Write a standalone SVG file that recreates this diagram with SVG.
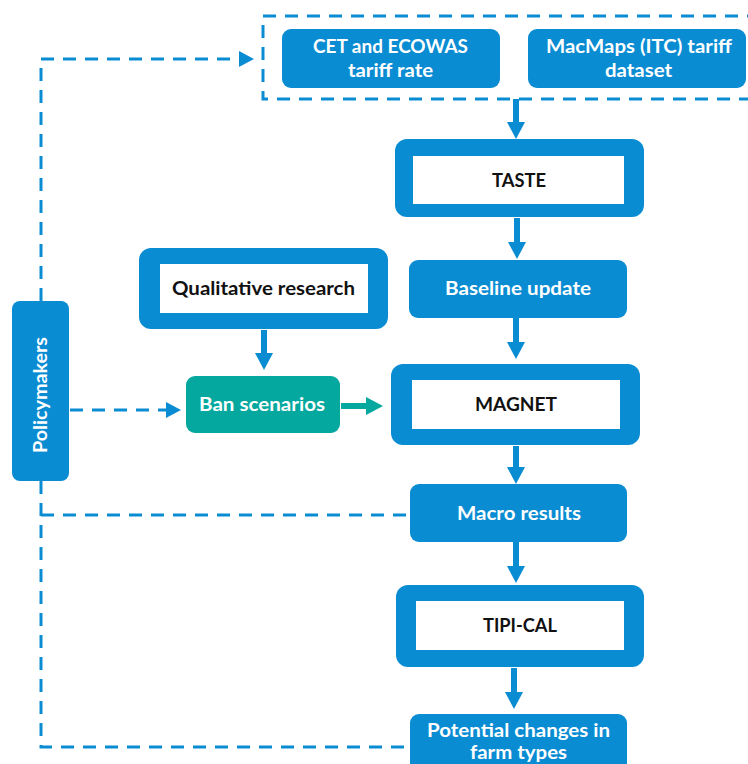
<svg xmlns="http://www.w3.org/2000/svg" width="748" height="764" viewBox="0 0 748 764">
<defs>
<style>
.blue{fill:#0A8CD3}
.teal{fill:#05A89E}
.inner{fill:#ffffff}
.wt{font-family:Lato,"Open Sans",sans-serif;font-weight:bold;font-size:19.5px;fill:#ffffff;text-anchor:middle}
.bt{font-family:Lato,"Open Sans",sans-serif;font-weight:bold;font-size:19.5px;fill:#111111;text-anchor:middle}
.solid{stroke:#0A8CD3;stroke-width:6;fill:none}
.dash{stroke:#0A8CD3;stroke-width:3;fill:none;stroke-dasharray:13 9}
</style>
<marker id="ah" markerUnits="userSpaceOnUse" markerWidth="18" markerHeight="18" refX="0" refY="9" orient="auto" overflow="visible">
<path d="M0,0 L17,9 L0,18 Z" fill="#0A8CD3"/>
</marker>
<marker id="aht" markerUnits="userSpaceOnUse" markerWidth="18" markerHeight="18" refX="0" refY="9" orient="auto" overflow="visible">
<path d="M0,0 L17,9 L0,18 Z" fill="#05A89E"/>
</marker>
<marker id="ahd" markerUnits="userSpaceOnUse" markerWidth="16" markerHeight="16" refX="0" refY="8" orient="auto" overflow="visible">
<path d="M0,0 L15,8 L0,16 Z" fill="#0A8CD3"/>
</marker>
</defs>

<g id="connectors">
<line class="solid" x1="516" y1="99" x2="516" y2="122" marker-end="url(#ah)"/>
<line class="solid" x1="517" y1="218" x2="517" y2="242" marker-end="url(#ah)"/>
<line class="solid" x1="516" y1="318" x2="516" y2="342" marker-end="url(#ah)"/>
<line class="solid" x1="516" y1="446" x2="516" y2="467" marker-end="url(#ah)"/>
<line class="solid" x1="516" y1="542" x2="516" y2="566" marker-end="url(#ah)"/>
<line class="solid" x1="514" y1="668" x2="514" y2="692" marker-end="url(#ah)"/>
<line class="solid" x1="264" y1="330" x2="264" y2="353" marker-end="url(#ah)"/>
<line x1="341" y1="406" x2="366" y2="406" stroke="#05A89E" stroke-width="6" marker-end="url(#aht)"/>
<path class="dash" d="M41,301 V59 H239" marker-end="url(#ahd)"/>
<path class="dash" d="M70,410 H166" marker-end="url(#ahd)"/>
<path class="dash" d="M41,481 V747 H410"/>
<path class="dash" d="M41,515 H410"/>
</g>

<g id="inputs-group">
<rect x="263" y="16" width="500" height="83" fill="none" stroke="#0A8CD3" stroke-width="3" stroke-dasharray="13 9"/>
</g>
<g id="cet">
<rect class="blue" x="282" y="29" width="218" height="59" rx="9"/>
<text class="wt" x="390.5" y="53" textLength="155" lengthAdjust="spacingAndGlyphs">CET and ECOWAS</text>
<text class="wt" x="390.5" y="77" textLength="85" lengthAdjust="spacingAndGlyphs">tariff rate</text>
</g>
<g id="macmaps">
<rect class="blue" x="528" y="29" width="218" height="59" rx="9"/>
<text class="wt" x="639" y="53" textLength="186" lengthAdjust="spacingAndGlyphs">MacMaps (ITC) tariff</text>
<text class="wt" x="638.5" y="77" textLength="67" lengthAdjust="spacingAndGlyphs">dataset</text>
</g>
<g id="taste">
<rect class="blue" x="395" y="139" width="249" height="78" rx="12"/>
<rect class="inner" x="413" y="156" width="211" height="48"/>
<text class="bt" x="519" y="187" textLength="54" lengthAdjust="spacingAndGlyphs">TASTE</text>
</g>
<g id="baseline">
<rect class="blue" x="409" y="260" width="218" height="58" rx="9"/>
<text class="wt" x="518" y="295" textLength="146" lengthAdjust="spacingAndGlyphs">Baseline update</text>
</g>
<g id="qualitative">
<rect class="blue" x="139" y="248" width="249" height="81" rx="12"/>
<rect class="inner" x="160" y="264" width="208" height="49"/>
<text class="bt" x="263.5" y="295" textLength="183" lengthAdjust="spacingAndGlyphs">Qualitative research</text>
</g>
<g id="ban">
<rect class="teal" x="186" y="376" width="154" height="57" rx="9"/>
<text class="wt" x="262" y="411" textLength="126" lengthAdjust="spacingAndGlyphs">Ban scenarios</text>
</g>
<g id="magnet">
<rect class="blue" x="391" y="364" width="249" height="81" rx="12"/>
<rect class="inner" x="412" y="380" width="208" height="49"/>
<text class="bt" x="516" y="411" textLength="82" lengthAdjust="spacingAndGlyphs">MAGNET</text>
</g>
<g id="macro">
<rect class="blue" x="410" y="484" width="217" height="58" rx="9"/>
<text class="wt" x="519" y="520" textLength="124" lengthAdjust="spacingAndGlyphs">Macro results</text>
</g>
<g id="tipical">
<rect class="blue" x="396" y="585" width="248" height="82" rx="12"/>
<rect class="inner" x="416" y="601" width="208" height="49"/>
<text class="bt" x="520" y="632" textLength="74" lengthAdjust="spacingAndGlyphs">TIPI-CAL</text>
</g>
<g id="potential">
<rect class="blue" x="410" y="714" width="217" height="70" rx="9"/>
<text class="wt" x="518.5" y="737" textLength="183" lengthAdjust="spacingAndGlyphs">Potential changes in</text>
<text class="wt" x="518.5" y="759" textLength="97" lengthAdjust="spacingAndGlyphs">farm types</text>
</g>
<g id="policymakers">
<rect class="blue" x="12" y="301" width="57" height="180" rx="8"/>
<text class="wt" transform="translate(47,395) rotate(-90)" x="0" y="0" textLength="116" lengthAdjust="spacingAndGlyphs">Policymakers</text>
</g>
</svg>
